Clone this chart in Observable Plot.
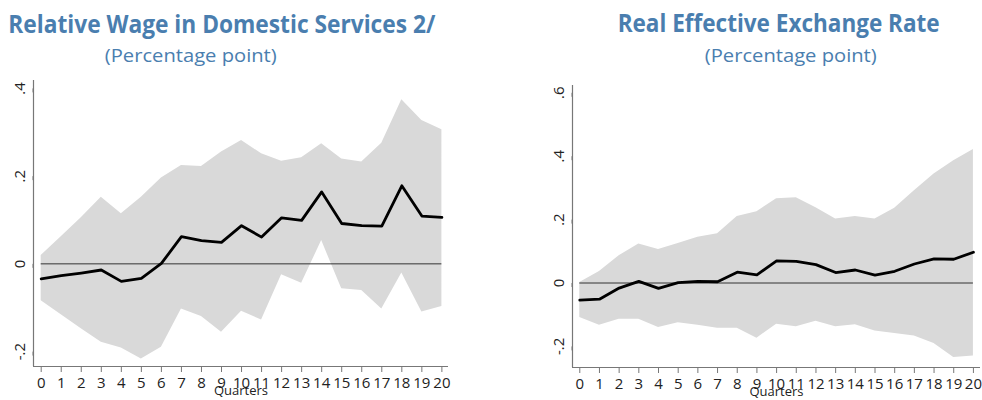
<!DOCTYPE html>
<html>
<head>
<meta charset="utf-8">
<script src="https://cdn.jsdelivr.net/npm/d3@7"></script>
<script src="https://cdn.jsdelivr.net/npm/@observablehq/plot@0.6"></script>
<style>
  html, body { margin: 0; padding: 0; background: #fff; }
  #root { position: relative; width: 982px; height: 400px; overflow: hidden; font-family: "Open Sans", sans-serif; }
  .title, .sub { position: absolute; white-space: nowrap; line-height: 1; color: #4a7eaf; transform-origin: center center; }
  .title { font-weight: 700; font-size: 25px; }
  .sub { font-weight: 400; font-size: 18px; }
  .panel { position: absolute; top: 70px; }
  .panel text { font-size: 15px; }
  .panel g[aria-label="text"] text { font-size: 13px; }
</style>
</head>
<body>
<div id="root"></div>
<script>
// ---- Data ----
const quarters = [0,1,2,3,4,5,6,7,8,9,10,11,12,13,14,15,16,17,18,19,20];

// Relative Wage in Domestic Services
const wageMid   = [-0.034,-0.027,-0.021,-0.014,-0.040,-0.033,0.001,0.062,0.053,0.049,0.087,0.061,0.105,0.099,0.164,0.092,0.087,0.086,0.178,0.109,0.106];
const wageUpper = [0.019,0.062,0.105,0.152,0.114,0.152,0.196,0.224,0.222,0.255,0.281,0.251,0.234,0.242,0.274,0.239,0.232,0.275,0.374,0.327,0.306];
const wageLower = [-0.084,-0.116,-0.148,-0.179,-0.192,-0.217,-0.190,-0.103,-0.120,-0.156,-0.108,-0.128,-0.025,-0.044,0.053,-0.057,-0.061,-0.103,-0.021,-0.110,-0.097];

// Real Effective Exchange Rate
const reerMid   = [-0.054,-0.051,-0.016,0.005,-0.017,0.001,0.005,0.004,0.034,0.026,0.070,0.068,0.058,0.033,0.041,0.025,0.037,0.060,0.076,0.075,0.097];
const reerUpper = [0.002,0.036,0.086,0.123,0.106,0.125,0.144,0.155,0.210,0.225,0.266,0.269,0.237,0.202,0.210,0.202,0.236,0.291,0.344,0.386,0.421];
const reerLower = [-0.109,-0.133,-0.114,-0.114,-0.140,-0.125,-0.133,-0.143,-0.143,-0.174,-0.130,-0.138,-0.121,-0.138,-0.132,-0.151,-0.159,-0.167,-0.191,-0.235,-0.230];

// Tick values and labels
const wageYTicks  = [-0.2, 0, 0.2, 0.4];
const wageYLabels = ["-.2", "0", ".2", ".4"];
const reerYTicks  = [-0.2, 0, 0.2, 0.4, 0.6];
const reerYLabels = ["-.2", "0", ".2", ".4", ".6"];

const titles = ["Relative Wage in Domestic Services 2/", "Real Effective Exchange Rate"];
const subtitles = ["(Percentage point)", "(Percentage point)"];
const xLabel = "Quarters";

// ---- Build ----
const root = document.getElementById("root");
const AXIS = "#777";
const INK = "#222";

function rows(mid, lo, hi) {
  return quarters.map((q, i) => ({q, mid: mid[i], lo: lo[i], hi: hi[i]}));
}

function panel({data, yTicks, yLabels, xDomain, yDomain, margins, left}) {
  const fmt = new Map(yTicks.map((t, i) => [t, yLabels[i]]));
  const chart = Plot.plot({
    width: 491,
    height: 330,
    marginLeft: margins[0],
    marginRight: margins[1],
    marginTop: margins[2],
    marginBottom: margins[3],
    style: {fontFamily: "Open Sans, sans-serif", fontSize: "15px", background: "transparent"},
    x: {domain: xDomain, axis: null},
    y: {domain: yDomain, axis: null},
    marks: [
      Plot.areaY(data, {x: "q", y1: "lo", y2: "hi", fill: "#d9d9d9", curve: "linear"}),
      Plot.ruleY([0], {x1: quarters[0], x2: quarters[quarters.length - 1], stroke: "#333", strokeWidth: 1}),
      Plot.lineY(data, {x: "q", y: "mid", stroke: "#000", strokeWidth: 2.8, strokeLinejoin: "round"}),
      Plot.ruleX([xDomain[0]], {stroke: AXIS, strokeWidth: 1.2}),
      Plot.ruleY([yDomain[0]], {stroke: AXIS, strokeWidth: 1.2}),
      Plot.axisX({ticks: quarters, tickFormat: d => String(d), tickSize: 6, tickPadding: 5, fontSize: 15, stroke: AXIS, color: INK, label: null}),
      Plot.axisY({ticks: yTicks, tickFormat: d => fmt.get(d), tickSize: 4, tickPadding: 9, fontSize: 15, rotate: -90, textAnchor: "middle", stroke: AXIS, color: INK, label: null}),
      Plot.text([xLabel], {text: d => d, frameAnchor: "bottom", dy: 28, fontSize: 13, fill: INK})
    ]
  });
  chart.classList.add("panel");
  chart.style.left = left + "px";
  root.appendChild(chart);
}

panel({
  data: rows(wageMid, wageLower, wageUpper),
  yTicks: wageYTicks, yLabels: wageYLabels,
  xDomain: [-0.384, 20.33], yDomain: [-0.234, 0.418],
  margins: [33, 43, 10, 34], left: 0
});
panel({
  data: rows(reerMid, reerLower, reerUpper),
  yTicks: reerYTicks, yLabels: reerYLabels,
  xDomain: [-0.37, 20.36], yDomain: [-0.2665, 0.623],
  margins: [81, 2, 15, 33], left: 491
});

// Titles (layout: center x, baseline y, target width)
function addText(cls, text, cx, baseline, targetW) {
  const el = document.createElement("div");
  el.className = cls;
  el.textContent = text;
  root.appendChild(el);
  const fs = parseFloat(getComputedStyle(el).fontSize);
  const w = el.getBoundingClientRect().width;
  el.style.left = (cx - w / 2) + "px";
  el.style.top = (baseline - 0.888 * fs) + "px";
  el.style.transform = `scaleX(${targetW / w})`;
}
addText("title", titles[0], 222, 33, 427);
addText("sub", subtitles[0], 191, 62, 172);
addText("title", titles[1], 779, 32, 322);
addText("sub", subtitles[1], 791, 62, 172);
</script>
</body>
</html>
